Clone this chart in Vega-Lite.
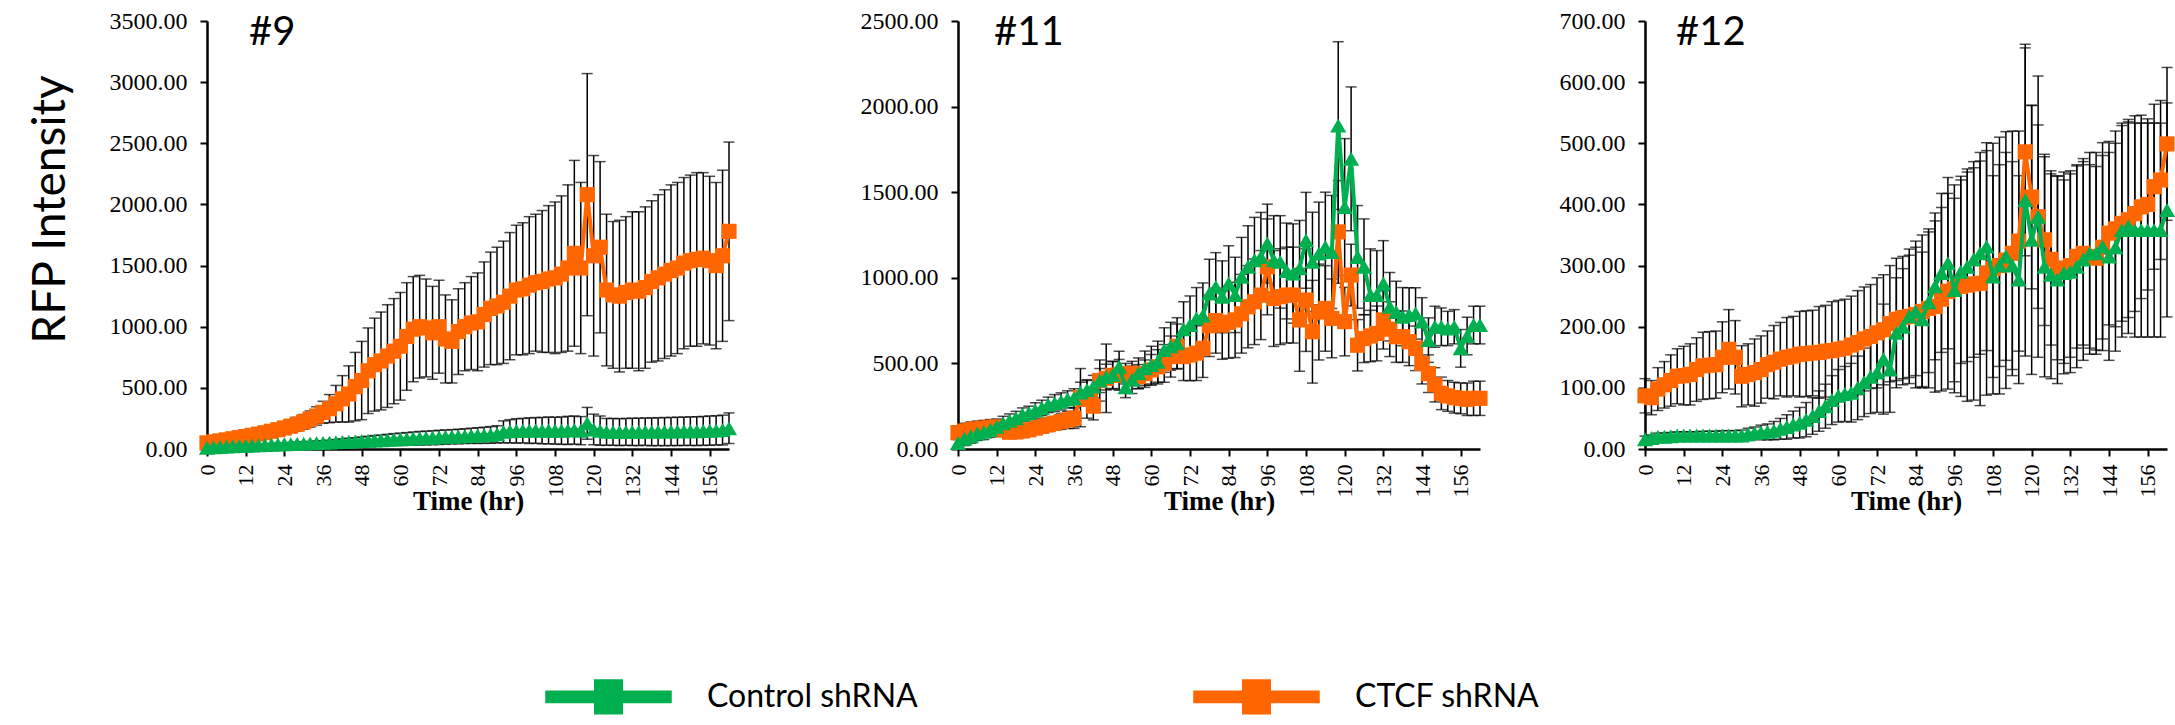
{
"$schema": "https://vega.github.io/schema/vega-lite/v6.json",
"padding": {"left": 27, "top": 9, "right": 5, "bottom": 5},
"background": "white",
"config": {
 "view": {"stroke": null},
 "axis": {"grid": false, "domainColor": "#000", "domainWidth": 2.5, "tickColor": "#000", "tickWidth": 2, "tickSize": 7, "labelColor": "#000", "labelFont": "Liberation Serif", "labelFontSize": 24, "titleColor": "#000", "labelOverlap": false, "labelFlush": false, "labelBound": false},
 "axisX": {"labelAngle": -90, "labelPadding": 8, "labelFontSize": 22, "labelSeparation": -12, "titleFont": "Liberation Serif", "titleFontWeight": "bold", "titleFontSize": 27, "titleY": 52, "titleBaseline": "middle"},
 "axisY": {"labelPadding": 13, "titleFont": "Lato", "titleFontSize": 46, "titleFontWeight": "normal"},
 "title": {"anchor": "start", "frame": "group", "font": "Lato", "fontSize": 40, "fontWeight": "normal", "color": "#000", "baseline": "alphabetic"}
},
"datasets": {
"p9": [
{"t":0,"c":50,"ce":20,"k":10,"ke":5},{"t":2,"c":58,"ce":20,"k":14,"ke":5},{"t":4,"c":66,"ce":22,"k":17,"ke":6},{"t":6,"c":75,"ce":24,"k":20,"ke":6},{"t":8,"c":84,"ce":26,"k":22,"ke":7},{"t":10,"c":93,"ce":28,"k":24,"ke":7},{"t":12,"c":102,"ce":30,"k":26,"ke":8},{"t":14,"c":112,"ce":32,"k":28,"ke":8},{"t":16,"c":122,"ce":34,"k":30,"ke":9},{"t":18,"c":133,"ce":36,"k":32,"ke":9},{"t":20,"c":145,"ce":40,"k":34,"ke":10},{"t":22,"c":158,"ce":44,"k":36,"ke":11},{"t":24,"c":172,"ce":48,"k":38,"ke":12},{"t":26,"c":187,"ce":52,"k":40,"ke":13},{"t":28,"c":203,"ce":56,"k":42,"ke":14},{"t":30,"c":222,"ce":60,"k":44,"ke":15},{"t":32,"c":245,"ce":66,"k":46,"ke":16},{"t":34,"c":270,"ce":75,"k":48,"ke":17},{"t":36,"c":300,"ce":90,"k":50,"ke":18},{"t":38,"c":330,"ce":115,"k":52,"ke":20},{"t":40,"c":370,"ce":150,"k":55,"ke":22},{"t":42,"c":410,"ce":190,"k":58,"ke":25},{"t":44,"c":450,"ce":230,"k":60,"ke":28},{"t":46,"c":510,"ce":280,"k":62,"ke":30},{"t":48,"c":560,"ce":320,"k":65,"ke":33},{"t":50,"c":640,"ce":350,"k":68,"ke":36},{"t":52,"c":690,"ce":380,"k":70,"ke":40},{"t":54,"c":720,"ce":400,"k":72,"ke":42},{"t":56,"c":760,"ce":420,"k":75,"ke":45},{"t":58,"c":800,"ce":430,"k":78,"ke":48},{"t":60,"c":840,"ce":440,"k":80,"ke":50},{"t":62,"c":920,"ce":440,"k":82,"ke":52},{"t":64,"c":980,"ce":430,"k":85,"ke":54},{"t":66,"c":1000,"ce":420,"k":88,"ke":55},{"t":68,"c":990,"ce":400,"k":90,"ke":56},{"t":70,"c":950,"ce":380,"k":92,"ke":57},{"t":72,"c":1000,"ce":380,"k":95,"ke":58},{"t":74,"c":900,"ce":360,"k":98,"ke":58},{"t":76,"c":880,"ce":340,"k":100,"ke":58},{"t":78,"c":960,"ce":350,"k":102,"ke":60},{"t":80,"c":1000,"ce":360,"k":105,"ke":60},{"t":82,"c":1030,"ce":380,"k":108,"ke":62},{"t":84,"c":1040,"ce":400,"k":110,"ke":64},{"t":86,"c":1100,"ce":430,"k":112,"ke":66},{"t":88,"c":1150,"ce":460,"k":115,"ke":68},{"t":90,"c":1170,"ce":480,"k":120,"ke":70},{"t":92,"c":1200,"ce":500,"k":140,"ke":90},{"t":94,"c":1250,"ce":520,"k":145,"ke":95},{"t":96,"c":1300,"ce":530,"k":148,"ke":100},{"t":98,"c":1310,"ce":540,"k":150,"ke":100},{"t":100,"c":1340,"ce":560,"k":150,"ke":105},{"t":102,"c":1360,"ce":560,"k":152,"ke":105},{"t":104,"c":1370,"ce":580,"k":150,"ke":108},{"t":106,"c":1390,"ce":600,"k":152,"ke":110},{"t":108,"c":1400,"ce":620,"k":150,"ke":110},{"t":110,"c":1430,"ce":640,"k":150,"ke":112},{"t":112,"c":1480,"ce":680,"k":152,"ke":115},{"t":114,"c":1600,"ce":760,"k":155,"ke":115},{"t":116,"c":1480,"ce":700,"k":150,"ke":115},{"t":118,"c":2080,"ce":990,"k":210,"ke":130},{"t":120,"c":1580,"ce":820,"k":160,"ke":125},{"t":122,"c":1650,"ce":700,"k":150,"ke":120},{"t":124,"c":1300,"ce":620,"k":140,"ke":110},{"t":126,"c":1260,"ce":600,"k":140,"ke":110},{"t":128,"c":1250,"ce":620,"k":138,"ke":110},{"t":130,"c":1280,"ce":620,"k":140,"ke":110},{"t":132,"c":1300,"ce":640,"k":140,"ke":112},{"t":134,"c":1290,"ce":650,"k":140,"ke":112},{"t":136,"c":1320,"ce":660,"k":142,"ke":112},{"t":138,"c":1370,"ce":660,"k":140,"ke":114},{"t":140,"c":1400,"ce":680,"k":142,"ke":114},{"t":142,"c":1430,"ce":690,"k":142,"ke":115},{"t":144,"c":1460,"ce":700,"k":143,"ke":115},{"t":146,"c":1480,"ce":700,"k":144,"ke":116},{"t":148,"c":1520,"ce":700,"k":145,"ke":116},{"t":150,"c":1540,"ce":700,"k":146,"ke":117},{"t":152,"c":1550,"ce":710,"k":146,"ke":118},{"t":154,"c":1560,"ce":700,"k":148,"ke":118},{"t":156,"c":1540,"ce":690,"k":150,"ke":120},{"t":158,"c":1500,"ce":680,"k":152,"ke":120},{"t":160,"c":1580,"ce":700,"k":155,"ke":122},{"t":162,"c":1780,"ce":730,"k":170,"ke":125}
],
"p11": [
{"t":0,"c":95,"ce":40,"k":35,"ke":30},{"t":2,"c":105,"ce":45,"k":60,"ke":40},{"t":4,"c":113,"ce":45,"k":74,"ke":40},{"t":6,"c":118,"ce":45,"k":90,"ke":40},{"t":8,"c":122,"ce":45,"k":100,"ke":45},{"t":10,"c":127,"ce":45,"k":113,"ke":45},{"t":12,"c":130,"ce":40,"k":130,"ke":45},{"t":14,"c":110,"ce":35,"k":151,"ke":40},{"t":16,"c":98,"ce":30,"k":165,"ke":40},{"t":18,"c":100,"ce":30,"k":180,"ke":40},{"t":20,"c":105,"ce":30,"k":200,"ke":40},{"t":22,"c":112,"ce":30,"k":210,"ke":40},{"t":24,"c":122,"ce":32,"k":225,"ke":45},{"t":26,"c":132,"ce":35,"k":240,"ke":45},{"t":28,"c":142,"ce":40,"k":258,"ke":45},{"t":30,"c":150,"ce":40,"k":268,"ke":50},{"t":32,"c":160,"ce":45,"k":278,"ke":50},{"t":34,"c":170,"ce":50,"k":290,"ke":50},{"t":36,"c":180,"ce":60,"k":297,"ke":55},{"t":38,"c":300,"ce":170,"k":330,"ke":60},{"t":40,"c":290,"ce":110,"k":345,"ke":60},{"t":42,"c":250,"ce":80,"k":365,"ke":65},{"t":44,"c":400,"ce":120,"k":400,"ke":70},{"t":46,"c":413,"ce":200,"k":420,"ke":75},{"t":48,"c":430,"ce":80,"k":433,"ke":80},{"t":50,"c":433,"ce":90,"k":481,"ke":90},{"t":52,"c":440,"ce":60,"k":360,"ke":60},{"t":54,"c":442,"ce":70,"k":404,"ke":80},{"t":56,"c":423,"ce":70,"k":442,"ke":90},{"t":58,"c":440,"ce":80,"k":472,"ke":100},{"t":60,"c":462,"ce":90,"k":490,"ke":110},{"t":62,"c":480,"ce":100,"k":510,"ke":120},{"t":64,"c":500,"ce":110,"k":578,"ke":130},{"t":66,"c":540,"ce":120,"k":600,"ke":140},{"t":68,"c":600,"ce":130,"k":617,"ke":150},{"t":70,"c":540,"ce":140,"k":700,"ke":160},{"t":72,"c":549,"ce":150,"k":724,"ke":170},{"t":74,"c":560,"ce":160,"k":763,"ke":180},{"t":76,"c":588,"ce":170,"k":780,"ke":190},{"t":78,"c":720,"ce":180,"k":908,"ke":200},{"t":80,"c":750,"ce":190,"k":947,"ke":200},{"t":82,"c":724,"ce":200,"k":889,"ke":210},{"t":84,"c":740,"ce":210,"k":967,"ke":220},{"t":86,"c":754,"ce":220,"k":900,"ke":220},{"t":88,"c":790,"ce":230,"k":1006,"ke":230},{"t":90,"c":831,"ce":240,"k":1064,"ke":240},{"t":92,"c":860,"ce":250,"k":1103,"ke":250},{"t":94,"c":899,"ce":260,"k":1122,"ke":260},{"t":96,"c":1064,"ce":280,"k":1200,"ke":230},{"t":98,"c":879,"ce":280,"k":1103,"ke":260},{"t":100,"c":890,"ce":280,"k":1093,"ke":270},{"t":102,"c":899,"ce":280,"k":1040,"ke":280},{"t":104,"c":899,"ce":280,"k":1025,"ke":290},{"t":106,"c":754,"ce":300,"k":1055,"ke":280},{"t":108,"c":870,"ce":300,"k":1219,"ke":280},{"t":110,"c":685,"ce":300,"k":1093,"ke":290},{"t":112,"c":800,"ce":280,"k":1142,"ke":300},{"t":114,"c":821,"ce":250,"k":1180,"ke":320},{"t":116,"c":763,"ce":230,"k":1151,"ke":330},{"t":118,"c":1268,"ce":300,"k":1889,"ke":490},{"t":120,"c":744,"ce":200,"k":1413,"ke":400},{"t":122,"c":1016,"ce":180,"k":1695,"ke":420},{"t":124,"c":606,"ce":150,"k":1122,"ke":300},{"t":126,"c":645,"ce":140,"k":1064,"ke":280},{"t":128,"c":660,"ce":150,"k":899,"ke":270},{"t":130,"c":675,"ce":160,"k":899,"ke":260},{"t":132,"c":754,"ce":170,"k":967,"ke":250},{"t":134,"c":700,"ce":160,"k":831,"ke":200},{"t":136,"c":656,"ce":150,"k":800,"ke":180},{"t":138,"c":656,"ce":150,"k":773,"ke":170},{"t":140,"c":627,"ce":140,"k":782,"ke":160},{"t":142,"c":588,"ce":130,"k":792,"ke":150},{"t":144,"c":500,"ce":120,"k":744,"ke":140},{"t":146,"c":440,"ce":110,"k":636,"ke":130},{"t":148,"c":375,"ce":100,"k":714,"ke":120},{"t":150,"c":325,"ce":95,"k":714,"ke":110},{"t":152,"c":310,"ce":90,"k":704,"ke":100},{"t":154,"c":300,"ce":90,"k":714,"ke":100},{"t":156,"c":296,"ce":90,"k":588,"ke":110},{"t":158,"c":290,"ce":95,"k":660,"ke":110},{"t":160,"c":296,"ce":100,"k":724,"ke":110},{"t":162,"c":296,"ce":100,"k":724,"ke":110}
],
"p12": [
{"t":0,"c":87,"ce":28,"k":16,"ke":5},{"t":2,"c":84,"ce":28,"k":18,"ke":5},{"t":4,"c":98,"ce":35,"k":20,"ke":6},{"t":6,"c":105,"ce":38,"k":20,"ke":6},{"t":8,"c":112,"ce":42,"k":21,"ke":6},{"t":10,"c":119,"ce":45,"k":22,"ke":6},{"t":12,"c":120,"ce":48,"k":22,"ke":6},{"t":14,"c":122,"ce":50,"k":22,"ke":6},{"t":16,"c":130,"ce":52,"k":22,"ke":6},{"t":18,"c":136,"ce":55,"k":22,"ke":7},{"t":20,"c":137,"ce":55,"k":22,"ke":7},{"t":22,"c":138,"ce":55,"k":22,"ke":7},{"t":24,"c":150,"ce":58,"k":22,"ke":8},{"t":26,"c":163,"ce":65,"k":22,"ke":8},{"t":28,"c":150,"ce":60,"k":22,"ke":8},{"t":30,"c":119,"ce":50,"k":22,"ke":9},{"t":32,"c":122,"ce":50,"k":24,"ke":10},{"t":34,"c":125,"ce":55,"k":26,"ke":10},{"t":36,"c":130,"ce":55,"k":27,"ke":12},{"t":38,"c":138,"ce":55,"k":28,"ke":13},{"t":40,"c":142,"ce":60,"k":30,"ke":15},{"t":42,"c":147,"ce":60,"k":33,"ke":17},{"t":44,"c":150,"ce":65,"k":36,"ke":20},{"t":46,"c":152,"ce":65,"k":40,"ke":22},{"t":48,"c":155,"ce":70,"k":43,"ke":25},{"t":50,"c":156,"ce":70,"k":48,"ke":28},{"t":52,"c":157,"ce":70,"k":54,"ke":30},{"t":54,"c":158,"ce":75,"k":62,"ke":33},{"t":56,"c":160,"ce":75,"k":70,"ke":36},{"t":58,"c":161,"ce":80,"k":80,"ke":40},{"t":60,"c":163,"ce":80,"k":87,"ke":43},{"t":62,"c":165,"ce":80,"k":90,"ke":45},{"t":64,"c":170,"ce":80,"k":92,"ke":48},{"t":66,"c":174,"ce":85,"k":100,"ke":52},{"t":68,"c":180,"ce":85,"k":109,"ke":56},{"t":70,"c":184,"ce":85,"k":118,"ke":60},{"t":72,"c":190,"ce":90,"k":125,"ke":65},{"t":74,"c":195,"ce":90,"k":147,"ke":90},{"t":76,"c":205,"ce":95,"k":130,"ke":70},{"t":78,"c":212,"ce":100,"k":190,"ke":90},{"t":80,"c":215,"ce":100,"k":200,"ke":95},{"t":82,"c":217,"ce":110,"k":217,"ke":100},{"t":84,"c":220,"ce":120,"k":225,"ke":105},{"t":86,"c":225,"ce":125,"k":212,"ke":110},{"t":88,"c":230,"ce":130,"k":240,"ke":115},{"t":90,"c":233,"ce":140,"k":266,"ke":120},{"t":92,"c":245,"ce":150,"k":288,"ke":130},{"t":94,"c":258,"ce":160,"k":304,"ke":140},{"t":96,"c":262,"ce":170,"k":260,"ke":150},{"t":98,"c":266,"ce":180,"k":290,"ke":150},{"t":100,"c":268,"ce":190,"k":298,"ke":155},{"t":102,"c":270,"ce":190,"k":310,"ke":160},{"t":104,"c":271,"ce":200,"k":320,"ke":165},{"t":106,"c":288,"ce":200,"k":331,"ke":170},{"t":108,"c":295,"ce":205,"k":282,"ke":165},{"t":110,"c":300,"ce":210,"k":300,"ke":165},{"t":112,"c":309,"ce":210,"k":315,"ke":170},{"t":114,"c":320,"ce":200,"k":300,"ke":170},{"t":116,"c":340,"ce":180,"k":277,"ke":170},{"t":118,"c":486,"ce":170,"k":407,"ke":255},{"t":120,"c":412,"ce":150,"k":342,"ke":220},{"t":122,"c":380,"ce":150,"k":380,"ke":230},{"t":124,"c":342,"ce":140,"k":298,"ke":180},{"t":126,"c":310,"ce":140,"k":285,"ke":170},{"t":128,"c":296,"ce":150,"k":277,"ke":170},{"t":130,"c":290,"ce":150,"k":288,"ke":165},{"t":132,"c":300,"ce":150,"k":290,"ke":165},{"t":134,"c":315,"ce":150,"k":298,"ke":165},{"t":136,"c":320,"ce":150,"k":310,"ke":165},{"t":138,"c":315,"ce":150,"k":320,"ke":165},{"t":140,"c":312,"ce":150,"k":320,"ke":165},{"t":142,"c":330,"ce":150,"k":331,"ke":170},{"t":144,"c":353,"ce":150,"k":315,"ke":170},{"t":146,"c":360,"ce":160,"k":330,"ke":170},{"t":148,"c":369,"ce":160,"k":358,"ke":175},{"t":150,"c":375,"ce":160,"k":364,"ke":175},{"t":152,"c":385,"ce":160,"k":358,"ke":175},{"t":154,"c":396,"ce":150,"k":358,"ke":175},{"t":156,"c":400,"ce":140,"k":358,"ke":175},{"t":158,"c":429,"ce":135,"k":358,"ke":175},{"t":160,"c":440,"ce":130,"k":358,"ke":175},{"t":162,"c":499,"ce":125,"k":391,"ke":175}
]
},
"resolve": {"scale": {"color": "shared"}},
"bounds": "flush",
"spacing": 229,
"hconcat": [
{
 "width": 522, "height": 428,
 "data": {"name": "p9"},
 "title": {"text": "#9", "dx": 42, "offset": -44},
 "layer": [
  {"mark": {"type": "errorbar", "ticks": true, "size": 11, "thickness": 1.5, "color": "#000"},
   "encoding": {
    "x": {"field": "t", "type": "quantitative", "title": "Time (hr)", "scale": {"domain": [0, 162], "nice": false, "zero": false}, "axis": {"values": [0,6,12,18,24,30,36,42,48,54,60,66,72,78,84,90,96,102,108,114,120,126,132,138,144,150,156,162], "format": "d", "labelOverlap": false, "labelExpr": "datum.value % 12 === 0 ? datum.label : ''"}},
    "y": {"field": "c", "type": "quantitative", "title": "RFP Intensity", "scale": {"domain": [0, 3500], "nice": false}, "axis": {"values": [0,500,1000,1500,2000,2500,3000,3500], "format": ".2f", "titleX": -157, "titleY": 188, "titleAngle": 270, "titleAlign": "center", "titleBaseline": "middle"}},
    "yError": {"field": "ce"}}},
  {"mark": {"type": "errorbar", "ticks": true, "size": 11, "thickness": 1.5, "color": "#000"},
   "encoding": {"x": {"field": "t", "type": "quantitative", "title": "Time (hr)"}, "y": {"field": "k", "type": "quantitative", "title": "RFP Intensity"}, "yError": {"field": "ke"}}},
  {"mark": {"type": "line", "strokeWidth": 4},
   "encoding": {"x": {"field": "t", "type": "quantitative", "title": "Time (hr)"}, "y": {"field": "c", "type": "quantitative", "title": "RFP Intensity"},
    "color": {"datum": "CTCF shRNA", "type": "nominal", "scale": {"domain": ["Control shRNA", "CTCF shRNA"], "range": ["#00B050", "#FF6600"]},
     "legend": {"orient": "none", "legendX": 338, "legendY": 612, "direction": "horizontal", "title": null, "padding": 0,
      "symbolType": "M-1,-0.09H-0.22V-0.27H0.22V-0.09H1V0.09H0.22V0.27H-0.22V0.09H-1Z", "symbolSize": 15625,
      "labelFont": "Lato", "labelFontSize": 32, "labelColor": "#000", "labelOffset": 35, "columnPadding": 273, "labelLimit": 500,
      "encode": {"symbols": {"update": {"fill": {"signal": "datum.value === 'Control shRNA' ? '#009900' : '#FF6600'"}, "stroke": {"value": "transparent"}, "opacity": {"value": 1}}}}}}}},
  {"mark": {"type": "point", "shape": "square", "filled": true, "size": 230, "opacity": 1},
   "encoding": {"x": {"field": "t", "type": "quantitative", "title": "Time (hr)"}, "y": {"field": "c", "type": "quantitative", "title": "RFP Intensity"}, "color": {"datum": "CTCF shRNA", "type": "nominal"}}},
  {"mark": {"type": "line", "strokeWidth": 4},
   "encoding": {"x": {"field": "t", "type": "quantitative", "title": "Time (hr)"}, "y": {"field": "k", "type": "quantitative", "title": "RFP Intensity"}, "color": {"datum": "Control shRNA", "type": "nominal"}}},
  {"mark": {"type": "point", "shape": "triangle-up", "filled": true, "size": 260, "opacity": 1},
   "encoding": {"x": {"field": "t", "type": "quantitative", "title": "Time (hr)"}, "y": {"field": "k", "type": "quantitative", "title": "RFP Intensity"}, "color": {"datum": "Control shRNA", "type": "nominal"}}}
 ]
},
{
 "bounds": "flush",
 "spacing": 165,
 "hconcat": [
 {
  "width": 522, "height": 428,
  "data": {"name": "p11"},
  "title": {"text": "#11", "dx": 36, "offset": -44},
  "layer": [
   {"mark": {"type": "errorbar", "ticks": true, "size": 11, "thickness": 1.5, "color": "#000"},
    "encoding": {
     "x": {"field": "t", "type": "quantitative", "title": "Time (hr)", "scale": {"domain": [0, 162], "nice": false, "zero": false}, "axis": {"values": [0,6,12,18,24,30,36,42,48,54,60,66,72,78,84,90,96,102,108,114,120,126,132,138,144,150,156,162], "format": "d", "labelOverlap": false, "labelExpr": "datum.value % 12 === 0 ? datum.label : ''"}},
     "y": {"field": "c", "type": "quantitative", "title": null, "scale": {"domain": [0, 2500], "nice": false}, "axis": {"values": [0,500,1000,1500,2000,2500], "format": ".2f"}},
     "yError": {"field": "ce"}}},
   {"mark": {"type": "errorbar", "ticks": true, "size": 11, "thickness": 1.5, "color": "#000"},
    "encoding": {"x": {"field": "t", "type": "quantitative", "title": "Time (hr)"}, "y": {"field": "k", "type": "quantitative", "title": null}, "yError": {"field": "ke"}}},
   {"mark": {"type": "line", "strokeWidth": 4},
    "encoding": {"x": {"field": "t", "type": "quantitative", "title": "Time (hr)"}, "y": {"field": "c", "type": "quantitative", "title": null}, "color": {"datum": "CTCF shRNA", "type": "nominal"}}},
   {"mark": {"type": "point", "shape": "square", "filled": true, "size": 230, "opacity": 1},
    "encoding": {"x": {"field": "t", "type": "quantitative", "title": "Time (hr)"}, "y": {"field": "c", "type": "quantitative", "title": null}, "color": {"datum": "CTCF shRNA", "type": "nominal"}}},
   {"mark": {"type": "line", "strokeWidth": 4},
    "encoding": {"x": {"field": "t", "type": "quantitative", "title": "Time (hr)"}, "y": {"field": "k", "type": "quantitative", "title": null}, "color": {"datum": "Control shRNA", "type": "nominal"}}},
   {"mark": {"type": "point", "shape": "triangle-up", "filled": true, "size": 260, "opacity": 1},
    "encoding": {"x": {"field": "t", "type": "quantitative", "title": "Time (hr)"}, "y": {"field": "k", "type": "quantitative", "title": null}, "color": {"datum": "Control shRNA", "type": "nominal"}}}
  ]
 },
 {
  "width": 522, "height": 428,
  "data": {"name": "p12"},
  "title": {"text": "#12", "dx": 31, "offset": -44},
  "layer": [
   {"mark": {"type": "errorbar", "ticks": true, "size": 11, "thickness": 1.5, "color": "#000"},
    "encoding": {
     "x": {"field": "t", "type": "quantitative", "title": "Time (hr)", "scale": {"domain": [0, 162], "nice": false, "zero": false}, "axis": {"values": [0,6,12,18,24,30,36,42,48,54,60,66,72,78,84,90,96,102,108,114,120,126,132,138,144,150,156,162], "format": "d", "labelOverlap": false, "labelExpr": "datum.value % 12 === 0 ? datum.label : ''"}},
     "y": {"field": "c", "type": "quantitative", "title": null, "scale": {"domain": [0, 700], "nice": false}, "axis": {"values": [0,100,200,300,400,500,600,700], "format": ".2f"}},
     "yError": {"field": "ce"}}},
   {"mark": {"type": "errorbar", "ticks": true, "size": 11, "thickness": 1.5, "color": "#000"},
    "encoding": {"x": {"field": "t", "type": "quantitative", "title": "Time (hr)"}, "y": {"field": "k", "type": "quantitative", "title": null}, "yError": {"field": "ke"}}},
   {"mark": {"type": "line", "strokeWidth": 4},
    "encoding": {"x": {"field": "t", "type": "quantitative", "title": "Time (hr)"}, "y": {"field": "c", "type": "quantitative", "title": null}, "color": {"datum": "CTCF shRNA", "type": "nominal"}}},
   {"mark": {"type": "point", "shape": "square", "filled": true, "size": 230, "opacity": 1},
    "encoding": {"x": {"field": "t", "type": "quantitative", "title": "Time (hr)"}, "y": {"field": "c", "type": "quantitative", "title": null}, "color": {"datum": "CTCF shRNA", "type": "nominal"}}},
   {"mark": {"type": "line", "strokeWidth": 4},
    "encoding": {"x": {"field": "t", "type": "quantitative", "title": "Time (hr)"}, "y": {"field": "k", "type": "quantitative", "title": null}, "color": {"datum": "Control shRNA", "type": "nominal"}}},
   {"mark": {"type": "point", "shape": "triangle-up", "filled": true, "size": 260, "opacity": 1},
    "encoding": {"x": {"field": "t", "type": "quantitative", "title": "Time (hr)"}, "y": {"field": "k", "type": "quantitative", "title": null}, "color": {"datum": "Control shRNA", "type": "nominal"}}}
  ]
 }
 ]
}
]
}
